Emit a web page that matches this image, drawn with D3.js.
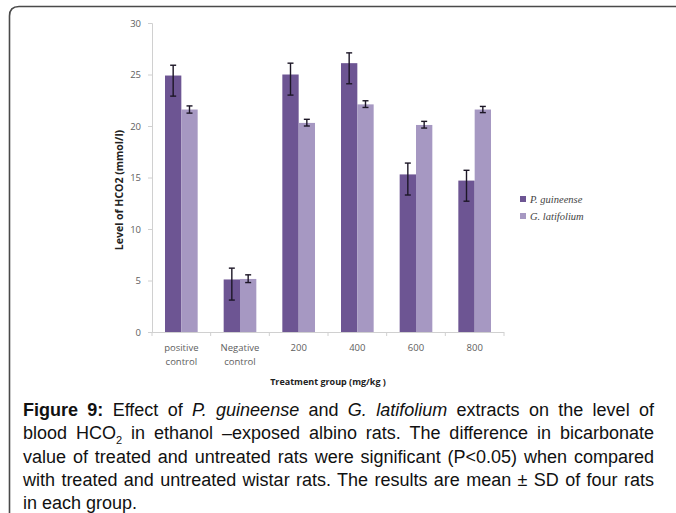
<!DOCTYPE html>
<html>
<head>
<meta charset="utf-8">
<script src="https://cdn.jsdelivr.net/npm/d3@7"></script>
<style>
  body { margin: 0; background: #fff; }
  #wrap { position: relative; width: 676px; height: 513px; overflow: hidden; }
  #caption {
    position: absolute; left: 23px; top: 399px; width: 631px;
    font-family: "Liberation Sans", Arial, sans-serif; font-size: 18px;
    line-height: 23.3px; color: #111;
  }
  #caption .ln { display: block; white-space: nowrap; height: 23.3px; }
  #caption .ln span { display: inline-block; transform-origin: 0 0; }
  #caption sub { font-size: 11px; line-height: 0; }
</style>
</head>
<body>
<div id="wrap">
  <svg id="chart" width="676" height="513"></svg>
  <div id="caption">
    <div class="ln"><span><b>Figure 9:</b> Effect of <i>P. guineense</i> and <i>G. latifolium</i> extracts on the level of</span></div>
    <div class="ln"><span>blood HCO<sub>2</sub> in ethanol –exposed albino rats. The difference in bicarbonate</span></div>
    <div class="ln"><span>value of treated and untreated rats were significant (P&lt;0.05) when compared</span></div>
    <div class="ln"><span>with treated and untreated wistar rats. The results are mean ± SD of four rats</span></div>
    <div class="ln last"><span>in each group.</span></div>
  </div>
</div>
<script>
let groups = [['positive', 'control'], ['Negative', 'control'], ['200'], ['400'], ['600'], ['800']];
let series = ['P. guineense', 'G. latifolium'];
let colors = ['#6d5593', '#a698c2'];

let guineense = [24.9, 5.1, 25.0, 26.1, 15.3, 14.7];
let guineenseUp = [1.0, 1.1, 1.1, 1.0, 1.1, 1.0];
let guineenseDown = [2.0, 2.0, 2.0, 2.0, 2.0, 2.0];

let latifolium = [21.6, 5.15, 20.3, 22.1, 20.1, 21.6];
let latifoliumUp = [0.35, 0.4, 0.35, 0.35, 0.35, 0.3];
let latifoliumDown = [0.35, 0.35, 0.3, 0.3, 0.3, 0.3];

let yTicks = [0, 5, 10, 15, 20, 25, 30];

let svg = d3.select('#chart');

// outer frame (top + left, rounded corner)
svg.append('path')
    .attr('d', 'M9.5,513 L9.5,16 Q9.5,6.5 19,6.5 L676,6.5')
    .attr('fill', 'none')
    .attr('stroke', '#4a4a4a')
    .attr('stroke-width', 1.6);

let x0 = d3.scaleBand()
    .domain(d3.range(groups.length))
    .range([152, 504])
    .paddingInner(0)
    .paddingOuter(0);

let x1 = d3.scaleBand()
    .domain([0, 1])
    .range([13, x0.bandwidth() - 13]);

let y = d3.scaleLinear()
    .domain([0, 30])
    .range([332, 23]);

// y axis
let yAxis = svg.append('g')
    .attr('transform', 'translate(152,0)')
    .call(d3.axisLeft(y).tickValues(yTicks).tickSize(4).tickPadding(7));
yAxis.select('.domain').attr('stroke', '#d0d0d0');
yAxis.selectAll('.tick line').attr('stroke', '#d0d0d0');
yAxis.selectAll('.tick text')
    .attr('fill', '#606060')
    .attr('font-family', '"Open Sans", sans-serif')
    .attr('font-size', 9.5);

// x axis (ticks at category boundaries)
svg.append('line')
    .attr('x1', 152).attr('x2', 504)
    .attr('y1', y(0) + 0.5).attr('y2', y(0) + 0.5)
    .attr('stroke', '#d0d0d0');
svg.append('g')
    .selectAll('line')
    .data(d3.range(groups.length + 1))
    .join('line')
    .attr('x1', d => 152 + d * x0.bandwidth())
    .attr('x2', d => 152 + d * x0.bandwidth())
    .attr('y1', y(0))
    .attr('y2', y(0) + 4)
    .attr('stroke', '#d0d0d0');

let labels = svg.append('g')
    .attr('font-family', '"Open Sans", sans-serif')
    .attr('font-size', 9.5)
    .attr('fill', '#606060')
    .attr('text-anchor', 'middle');
groups.forEach((g, i) => {
    g.forEach((line, k) => {
        labels.append('text')
            .attr('x', x0(i) + x0.bandwidth() / 2)
            .attr('y', 351 + k * 14)
            .text(line);
    });
});

// bars
let data = [
    {v: guineense, up: guineenseUp, down: guineenseDown},
    {v: latifolium, up: latifoliumUp, down: latifoliumDown}
];

data.forEach((s, si) => {
    let g = svg.append('g');
    g.selectAll('rect')
        .data(s.v)
        .join('rect')
        .attr('x', (d, i) => x0(i) + x1(si))
        .attr('width', x1.bandwidth())
        .attr('y', d => y(d))
        .attr('height', d => y(0) - y(d))
        .attr('fill', colors[si]);

    let eb = svg.append('g')
        .attr('stroke', '#1c1626')
        .attr('stroke-width', 1.4);
    s.v.forEach((d, i) => {
        let cx = x0(i) + x1(si) + x1.bandwidth() / 2;
        let top = y(d + s.up[i]);
        let bot = y(d - s.down[i]);
        eb.append('line').attr('x1', cx).attr('x2', cx).attr('y1', top).attr('y2', bot);
        eb.append('line').attr('x1', cx - 3).attr('x2', cx + 3).attr('y1', top).attr('y2', top);
        eb.append('line').attr('x1', cx - 3).attr('x2', cx + 3).attr('y1', bot).attr('y2', bot);
    });
});

// axis titles
svg.append('text')
    .attr('transform', 'translate(123,190) rotate(-90)')
    .attr('text-anchor', 'middle')
    .attr('font-family', '"Open Sans", sans-serif')
    .attr('font-weight', 'bold')
    .attr('font-size', 10.5)
    .attr('fill', '#222')
    .text('Level of HCO2 (mmol/l)');

svg.append('text')
    .attr('x', 328)
    .attr('y', 385)
    .attr('text-anchor', 'middle')
    .attr('font-family', '"Open Sans", sans-serif')
    .attr('font-weight', 'bold')
    .attr('font-size', 9)
    .attr('fill', '#222')
    .text('Treatment group (mg/kg )');

// legend
let legend = svg.append('g')
    .attr('transform', 'translate(520,196)');
series.forEach((name, i) => {
    legend.append('rect')
        .attr('x', 0).attr('y', i * 17)
        .attr('width', 6).attr('height', 6)
        .attr('fill', colors[i]);
    legend.append('text')
        .attr('x', 10).attr('y', i * 17 + 7)
        .attr('font-family', '"Liberation Serif", serif')
        .attr('font-style', 'italic')
        .attr('font-size', 10.5)
        .attr('fill', '#444')
        .text(name);
});

// justify caption lines: squeeze if too wide, stretch word spacing otherwise
let capW = 631;
d3.selectAll('#caption .ln').each(function () {
    let span = this.querySelector('span');
    let w = span.getBoundingClientRect().width;
    if (this.classList.contains('last')) {
        if (w > capW) span.style.transform = 'scaleX(' + (capW / w) + ')';
        return;
    }
    if (w > capW) {
        span.style.transform = 'scaleX(' + (capW / w) + ')';
    } else {
        let gaps = (span.textContent.match(/ /g) || []).length;
        span.style.wordSpacing = ((capW - w) / gaps) + 'px';
    }
});
</script>
</body>
</html>
